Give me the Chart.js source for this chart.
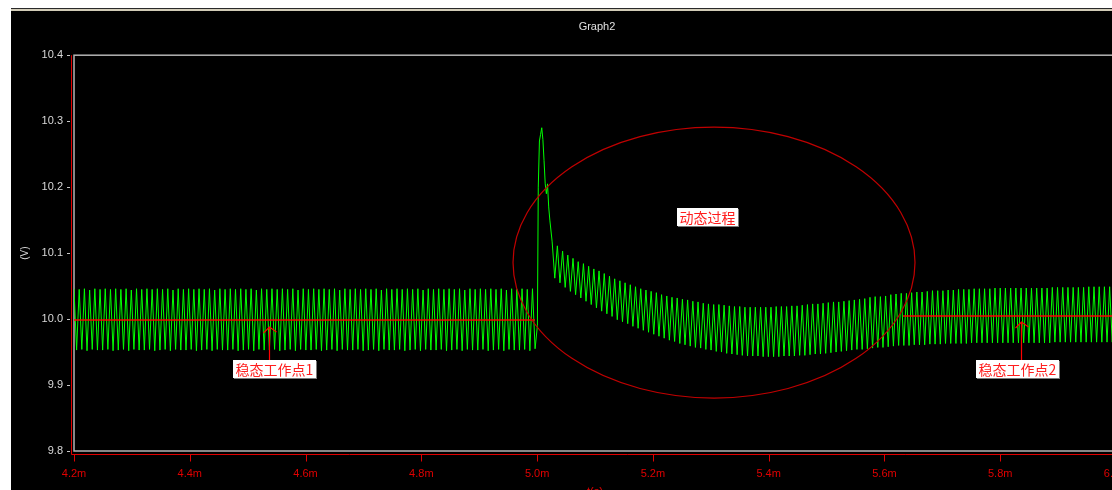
<!DOCTYPE html>
<html>
<head>
  <title>Graph2</title>
  <script src="https://cdn.jsdelivr.net/npm/chart.js"></script>
  <style>
    html, body {
      margin: 0;
      padding: 0;
      background: #fff;
      width: 1112px;
      height: 490px;
      overflow: hidden;
    }
    #topline {
      position: absolute;
      left: 11px;
      top: 8px;
      width: 1200px;
      height: 2px;
      border-top: 1px solid #2a2a2a;
      background: #d2ccb8;
    }
    #wrap {
      position: absolute;
      left: 11px;
      top: 11px;
      width: 1172px;
      height: 495px;
      background: #000;
    }
  </style>
</head>
<body>

  <div id="topline"></div>
  <div id="wrap"><canvas id="graph" width="1172" height="495"></canvas></div>

  <script>
    // axis ticks (time in ms, voltage in V)
    const xTickValues = [4.2, 4.4, 4.6, 4.8, 5.0, 5.2, 5.4, 5.6, 5.8, 6.0];
    const yTickValues = [9.8, 9.9, 10.0, 10.1, 10.2, 10.3, 10.4];

    // ripple samples: peak / trough alternating, one sample every 4.5 us
    const sampleStep = 0.0045;

    const steady1Start = 4.2;
    const steady1V = [
      10.046, 9.953, 10.045, 9.954, 10.046, 9.952, 10.044, 9.954, 10.046, 9.953, 10.045, 9.953, 10.046, 9.954, 10.045, 9.952,
      10.046, 9.953, 10.045, 9.954, 10.046, 9.952, 10.044, 9.954, 10.046, 9.953, 10.045, 9.953, 10.046, 9.954, 10.045, 9.952,
      10.046, 9.953, 10.045, 9.954, 10.046, 9.952, 10.044, 9.954, 10.046, 9.953, 10.045, 9.953, 10.046, 9.954, 10.045, 9.952,
      10.046, 9.953, 10.045, 9.954, 10.046, 9.952, 10.044, 9.954, 10.046, 9.953, 10.045, 9.953, 10.046, 9.954, 10.045, 9.952,
      10.046, 9.953, 10.045, 9.954, 10.046, 9.952, 10.044, 9.954, 10.046, 9.953, 10.045, 9.953, 10.046, 9.954, 10.045, 9.952,
      10.046, 9.953, 10.045, 9.954, 10.046, 9.952, 10.044, 9.954, 10.046, 9.953, 10.045, 9.953, 10.046, 9.954, 10.045, 9.952,
      10.046, 9.953, 10.045, 9.954, 10.046, 9.952, 10.044, 9.954, 10.046, 9.953, 10.045, 9.953, 10.046, 9.954, 10.045, 9.952,
      10.046, 9.953, 10.045, 9.954, 10.046, 9.952, 10.044, 9.954, 10.046, 9.953, 10.045, 9.953, 10.046, 9.954, 10.045, 9.952,
      10.046, 9.953, 10.045, 9.954, 10.046, 9.952, 10.044, 9.954, 10.046, 9.953, 10.045, 9.953, 10.046, 9.954, 10.045, 9.952,
      10.046, 9.953, 10.045, 9.954, 10.046, 9.952, 10.044, 9.954, 10.046, 9.953, 10.045, 9.953, 10.046, 9.954, 10.045, 9.952,
      10.046, 9.953, 10.045, 9.954, 10.046, 9.952, 10.044, 9.954, 10.046, 9.953, 10.045, 9.953, 10.046, 9.954, 10.045, 9.952
    ];

    // load step at 5.0 ms
    const spikeT = [4.992, 4.9965, 5.0005, 5.002, 5.004, 5.006, 5.008, 5.010, 5.012, 5.014, 5.016, 5.018, 5.020, 5.022];
    const spikeV = [10.046, 9.955, 9.990, 10.200, 10.270, 10.280, 10.290, 10.272, 10.240, 10.205, 10.190, 10.205, 10.170, 10.150];

    const transientStart = 5.026;
    const transientV = [
      10.117, 10.062, 10.111, 10.055, 10.103, 10.048, 10.097, 10.042, 10.092, 10.037,
      10.087, 10.032, 10.084, 10.027, 10.080, 10.022, 10.076, 10.017, 10.073, 10.012,
      10.069, 10.008, 10.065, 10.004, 10.061, 9.999, 10.058, 9.996, 10.055, 9.993,
      10.052, 9.989, 10.049, 9.986, 10.046, 9.983, 10.044, 9.980, 10.042, 9.977,
      10.040, 9.974, 10.037, 9.971, 10.035, 9.968, 10.033, 9.966, 10.032, 9.963,
      10.030, 9.961, 10.029, 9.959, 10.027, 9.957, 10.026, 9.956, 10.024, 9.954,
      10.023, 9.953, 10.022, 9.951, 10.022, 9.950, 10.021, 9.948, 10.020, 9.947,
      10.019, 9.946, 10.019, 9.945, 10.018, 9.944, 10.018, 9.944, 10.018, 9.944,
      10.018, 9.943, 10.018, 9.943, 10.018, 9.943, 10.019, 9.943, 10.019, 9.944,
      10.019, 9.944, 10.020, 9.944, 10.020, 9.945, 10.021, 9.945, 10.022, 9.946,
      10.023, 9.947, 10.023, 9.947, 10.024, 9.948, 10.025, 9.949, 10.026, 9.950,
      10.026, 9.951, 10.027, 9.952, 10.028, 9.953, 10.029, 9.954, 10.030, 9.954,
      10.031, 9.955, 10.033, 9.956, 10.034, 9.957, 10.034, 9.957, 10.035, 9.958,
      10.037, 9.959, 10.038, 9.960, 10.039, 9.960, 10.039, 9.960, 10.040, 9.961,
      10.041, 9.961, 10.041, 9.961, 10.042, 9.962, 10.043, 9.962, 10.043, 9.962,
      10.043, 9.963, 10.044, 9.963, 10.044, 9.963, 10.045, 9.963, 10.045, 9.963,
      10.045, 9.964, 10.046, 9.964, 10.046, 9.964, 10.046, 9.964, 10.046, 9.964,
      10.047, 9.964, 10.047, 9.964, 10.047, 9.964, 10.047, 9.964, 10.047, 9.964,
      10.047, 9.964, 10.047, 9.964, 10.047, 9.964, 10.047, 9.964, 10.047, 9.964,
      10.047, 9.964, 10.048, 9.965, 10.048, 9.965, 10.048, 9.965, 10.048, 9.965,
      10.048, 9.965, 10.048, 9.965, 10.048, 9.965, 10.049, 9.965, 10.049, 9.965,
      10.049, 9.965, 10.049, 9.965, 10.049, 9.965, 10.049, 9.965
    ];

    // red operating-point lines
    const op1T = [4.2, 4.9963];
    const op1V = [9.9985, 9.9985];
    const op2T = [5.632, 6.0];
    const op2V = [10.0045, 10.0045];

    // annotations (data coordinates)
    const ellipse = { t: 5.3056, v: 10.0856, rt: 0.3472, rv: 0.2053 };
    const notes = [
      { text: '稳态工作点1', t: 4.5463, v: 9.9242, tipT: 4.536, tipV: 9.9879 },
      { text: '稳态工作点2', t: 5.8298, v: 9.9242, tipT: 5.8359, tipV: 9.9955 },
      { text: '动态过程', t: 5.2935, v: 10.1545 }
    ];

    const wave = [];
    steady1V.forEach((v, i) => wave.push({ x: steady1Start + i * sampleStep, y: v }));
    spikeT.forEach((t, i) => wave.push({ x: t, y: spikeV[i] }));
    transientV.forEach((v, i) => wave.push({ x: transientStart + i * sampleStep, y: v }));

    const op1 = op1T.map((t, i) => ({ x: t, y: op1V[i] }));
    const op2 = op2T.map((t, i) => ({ x: t, y: op2V[i] }));

    const uiFont = { family: 'Liberation Sans, Arial, sans-serif', size: 11, weight: 'normal' };

    const scopePlugin = {
      id: 'scope',
      beforeDatasetsDraw(chart) {
        const { ctx, chartArea: a, scales: { x, y } } = chart;
        ctx.save();
        // plot frame
        ctx.strokeStyle = '#b4b4b4';
        ctx.lineWidth = 1.5;
        ctx.strokeRect(a.left, a.top, a.right - a.left, a.bottom - a.top);
        // red axes with ticks
        ctx.strokeStyle = '#e00000';
        ctx.lineWidth = 1;
        ctx.beginPath();
        const ax = a.left - 2.5, ay = a.bottom + 3.5;
        ctx.moveTo(ax, a.top);
        ctx.lineTo(ax, ay);
        ctx.lineTo(chart.width, ay);
        x.ticks.forEach(tk => {
          const px = Math.round(x.getPixelForValue(tk.value)) + 0.5;
          ctx.moveTo(px, ay);
          ctx.lineTo(px, ay + 7);
        });
        ctx.stroke();
        ctx.strokeStyle = '#c8c8c8';
        ctx.beginPath();
        y.ticks.forEach(tk => {
          const py = Math.round(y.getPixelForValue(tk.value)) + 0.5;
          ctx.moveTo(a.left - 7, py);
          ctx.lineTo(a.left - 4, py);
        });
        ctx.stroke();
        ctx.restore();
      },
      afterDatasetsDraw(chart) {
        const { ctx, scales: { x, y } } = chart;
        ctx.save();
        const cx = x.getPixelForValue(ellipse.t);
        const cy = y.getPixelForValue(ellipse.v);
        const rx = x.getPixelForValue(ellipse.t + ellipse.rt) - cx;
        const ry = cy - y.getPixelForValue(ellipse.v + ellipse.rv);
        ctx.strokeStyle = '#c00000';
        ctx.lineWidth = 1.2;
        ctx.beginPath();
        ctx.ellipse(cx, cy, rx, ry, 0, 0, Math.PI * 2);
        ctx.stroke();

        ctx.font = '14px "Noto Sans CJK SC"';
        ctx.textBaseline = 'middle';
        ctx.textAlign = 'center';
        notes.forEach(n => {
          const px = x.getPixelForValue(n.t);
          const py = y.getPixelForValue(n.v);
          const w = Math.round(ctx.measureText(n.text).width + 5);
          const h = 18;
          const bx = Math.round(px - w / 2);
          const by = Math.round(py - h / 2);
          if (n.tipT !== undefined) {
            const tx = Math.round(x.getPixelForValue(n.tipT)) + 0.5;
            const ty = y.getPixelForValue(n.tipV);
            ctx.strokeStyle = '#ff0000';
            ctx.lineWidth = 1.2;
            ctx.beginPath();
            ctx.moveTo(tx, by);
            ctx.lineTo(tx, ty);
            ctx.moveTo(tx - 6, ty + 6);
            ctx.lineTo(tx, ty);
            ctx.lineTo(tx + 7, ty + 5);
            ctx.stroke();
          }
          ctx.fillStyle = '#7a7a7a';
          ctx.fillRect(bx + 1, by + 1, w, h);
          ctx.fillStyle = '#ffffff';
          ctx.fillRect(bx, by, w, h);
          ctx.fillStyle = '#ff1e1e';
          ctx.fillText(n.text, bx + w / 2, by + h / 2 + 1);
        });
        ctx.restore();
      }
    };

    new Chart(document.getElementById('graph'), {
      type: 'line',
      data: {
        datasets: [
          { data: op1, borderColor: '#ff0000', borderWidth: 1.5, order: 0 },
          { data: op2, borderColor: '#ff0000', borderWidth: 1.5, order: 0 },
          { data: wave, borderColor: '#00ff00', borderWidth: 1, order: 1 }
        ]
      },
      options: {
        responsive: false,
        animation: false,
        events: [],
        elements: { point: { radius: 0 }, line: { tension: 0 } },
        layout: { padding: 0 },
        plugins: {
          legend: { display: false },
          tooltip: { enabled: false },
          title: {
            display: true,
            text: 'Graph2',
            color: '#e0e0e0',
            font: uiFont,
            padding: { top: 9, bottom: 22 }
          }
        },
        scales: {
          x: {
            type: 'linear',
            min: 4.2,
            max: 6.0,
            afterBuildTicks: s => { s.ticks = xTickValues.map(v => ({ value: v })); },
            afterFit: s => { s.height = 55; },
            grid: { display: false, drawTicks: false },
            border: { display: false },
            ticks: {
              color: '#e00000',
              font: uiFont,
              padding: 16,
              maxRotation: 0,
              autoSkip: false,
              callback: v => v.toFixed(1) + 'm'
            },
            title: { display: true, text: 't(s)', color: '#e00000', font: uiFont, padding: { top: 0, bottom: 7 } }
          },
          y: {
            min: 9.8,
            max: 10.4,
            afterBuildTicks: s => { s.ticks = yTickValues.map(v => ({ value: v })); },
            afterFit: s => { s.width = 63; },
            grid: { display: false, drawTicks: false },
            border: { display: false },
            ticks: {
              color: '#d8d8d8',
              font: uiFont,
              padding: 11,
              callback: v => v.toFixed(1)
            },
            title: { display: true, text: '(V)', color: '#d8d8d8', font: { family: uiFont.family, size: 10 }, padding: { top: 8, bottom: 0 } }
          },
          yRight: {
            position: 'right',
            min: 0,
            max: 1,
            afterFit: s => { s.width = 67; },
            grid: { display: false, drawTicks: false },
            border: { display: false },
            ticks: { display: false }
          }
        }
      },
      plugins: [scopePlugin]
    });
  </script>

</body>
</html>
